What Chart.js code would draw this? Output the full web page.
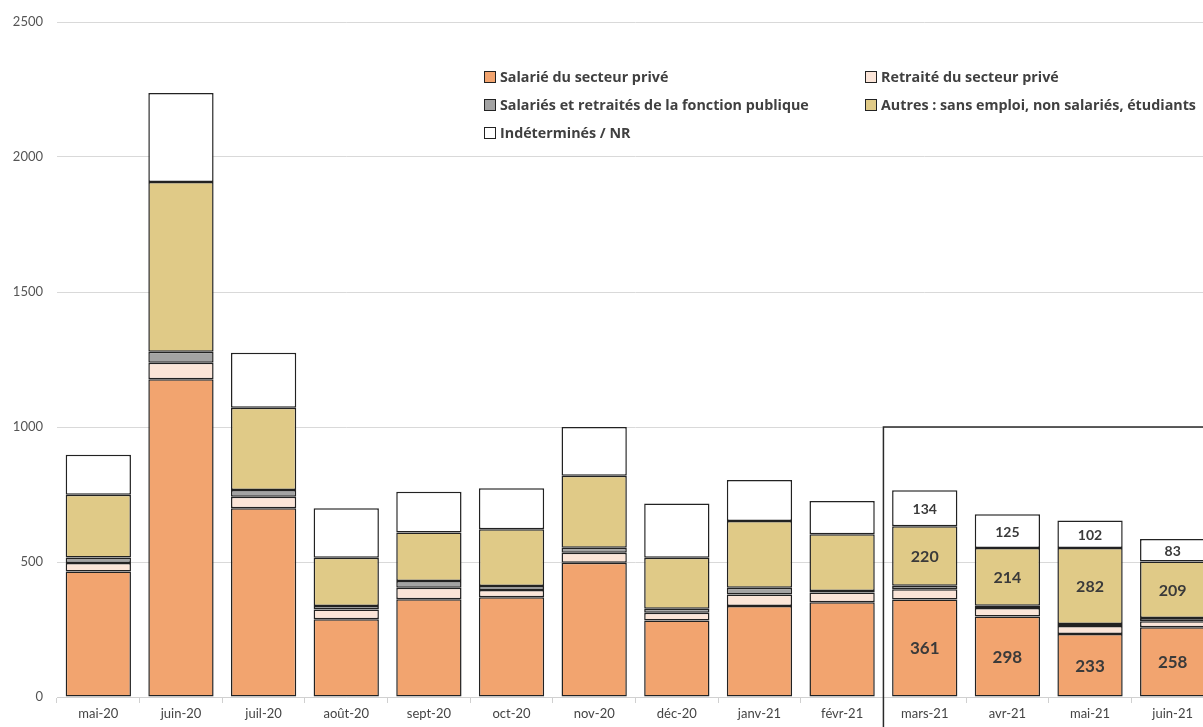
<!DOCTYPE html>
<html>
<head>
<meta charset="utf-8">
<script src="https://cdn.jsdelivr.net/npm/chart.js@4/dist/chart.umd.min.js"></script>
<style>
  html, body { margin: 0; padding: 0; background: #fff; overflow: hidden; }
  #wrap { position: relative; width: 1215px; height: 727px; }
  #legend { position: absolute; left: 484px; top: 66px; width: 740px;
    font-family: "Open Sans", Lato, sans-serif; font-weight: bold; font-size: 14.3px; color: #404040; }
  #legend .item { position: absolute; white-space: nowrap; line-height: 22px; }
  #legend .box { display: inline-block; width: 10px; height: 10px; border: 1px solid #222;
    margin-right: 4px; vertical-align: -1px; }
</style>
</head>
<body>
<div id="wrap">
  <canvas id="chart" width="1215" height="727"></canvas>
  <div id="legend"></div>
</div>
<script>
// months on the x axis
const months = ["mai-20", "juin-20", "juil-20", "août-20", "sept-20", "oct-20", "nov-20",
  "déc-20", "janv-21", "févr-21", "mars-21", "avr-21", "mai-21", "juin-21"];

// series
const salariePrive = [465, 1177, 699, 288, 362, 369, 497, 283, 337, 351, 361, 298, 233, 258];
const retraitePrive = [31, 61, 43, 36, 43, 27, 37, 29, 43, 36, 38, 32, 30, 23];
const fonctionPublique = [21, 41, 25, 13, 25, 15, 19, 15, 25, 6, 13, 8, 7, 12];
const autres = [232, 628, 304, 179, 179, 210, 266, 189, 247, 210, 220, 214, 282, 209];
const indetermines = [148, 330, 204, 183, 151, 152, 181, 201, 152, 123, 134, 125, 102, 83];

const yTicks = [0, 500, 1000, 1500, 2000, 2500];

// months that carry value labels (and sit in the framed box)
const labelledMonths = ["mars-21", "avr-21", "mai-21", "juin-21"];

const series = [
  { label: "Salarié du secteur privé", data: salariePrive, color: "#F2A46F", font: 17 },
  { label: "Retraité du secteur privé", data: retraitePrive, color: "#FBE5D8", font: 0 },
  { label: "Salariés et retraités de la fonction publique", data: fonctionPublique, color: "#A3A3A3", font: 0 },
  { label: "Autres : sans emploi, non salariés, étudiants", data: autres, color: "#E0CA87", font: 16 },
  { label: "Indéterminés / NR", data: indetermines, color: "#FFFFFF", font: 14 }
];

// value labels inside the last bars
const valueLabels = {
  id: "valueLabels",
  afterDatasetsDraw(chart) {
    const ctx = chart.ctx;
    ctx.save();
    ctx.fillStyle = "#3a3a3a";
    ctx.textAlign = "center";
    ctx.textBaseline = "middle";
    chart.data.datasets.forEach((ds, di) => {
      if (!series[di].font) return;
      const meta = chart.getDatasetMeta(di);
      ctx.font = "bold " + series[di].font + "px Lato, sans-serif";
      labelledMonths.forEach(m => {
        const i = months.indexOf(m);
        const bar = meta.data[i];
        ctx.fillText(String(ds.data[i]), bar.x, (bar.y + bar.base) / 2 + 1);
      });
    });
    ctx.restore();
  }
};

// frame around the labelled months
const frame = {
  id: "frame",
  afterDraw(chart) {
    const x = chart.scales.x, y = chart.scales.y;
    const first = months.indexOf(labelledMonths[0]);
    const left = (x.getPixelForValue(first - 1) + x.getPixelForValue(first)) / 2;
    const top = y.getPixelForValue(1000);
    const ctx = chart.ctx;
    ctx.save();
    ctx.strokeStyle = "#2a2a2a";
    ctx.lineWidth = 1.5;
    ctx.beginPath();
    ctx.moveTo(chart.width, top);
    ctx.lineTo(left, top);
    ctx.lineTo(left, chart.height);
    ctx.stroke();
    ctx.restore();
  }
};

const chart = new Chart(document.getElementById("chart"), {
  type: "bar",
  data: {
    labels: months,
    datasets: series.map(s => ({
      label: s.label,
      data: s.data,
      backgroundColor: s.color,
      borderColor: "#222",
      borderWidth: 1.5,
      borderSkipped: false,
      barPercentage: 0.79,
      categoryPercentage: 1
    }))
  },
  options: {
    responsive: false,
    animation: false,
    layout: { padding: { top: 22, right: 1, bottom: 0, left: 0 } },
    plugins: { legend: { display: false }, tooltip: { enabled: false } },
    scales: {
      x: {
        stacked: true,
        offset: true,
        afterFit: s => { s.height = 30; },
        grid: { display: true, drawOnChartArea: false, tickLength: 6, color: "#d0d0d0", offset: true },
        border: { color: "#d0d0d0" },
        ticks: { color: "#444", font: { family: "Lato", size: 13 }, padding: 3, maxRotation: 0 }
      },
      y: {
        stacked: true,
        min: 0,
        max: 2500,
        afterFit: s => { s.width = 57; },
        afterBuildTicks: s => { s.ticks = yTicks.map(v => ({ value: v })); },
        grid: { color: "#d9d9d9", drawTicks: false },
        border: { display: false },
        ticks: { color: "#555", font: { family: "Lato", size: 13 }, padding: 14, callback: v => String(v) }
      }
    }
  },
  plugins: [valueLabels, frame]
});

// legend laid out in two columns like the original
const legendPos = [[0, 0], [381, 0], [0, 28], [381, 28], [0, 56]];
const legend = document.getElementById("legend");
series.forEach((s, i) => {
  const item = document.createElement("div");
  item.className = "item";
  item.style.left = legendPos[i][0] + "px";
  item.style.top = legendPos[i][1] + "px";
  item.innerHTML = '<span class="box" style="background:' + s.color + '"></span>' + s.label;
  legend.appendChild(item);
});
</script>
</body>
</html>
